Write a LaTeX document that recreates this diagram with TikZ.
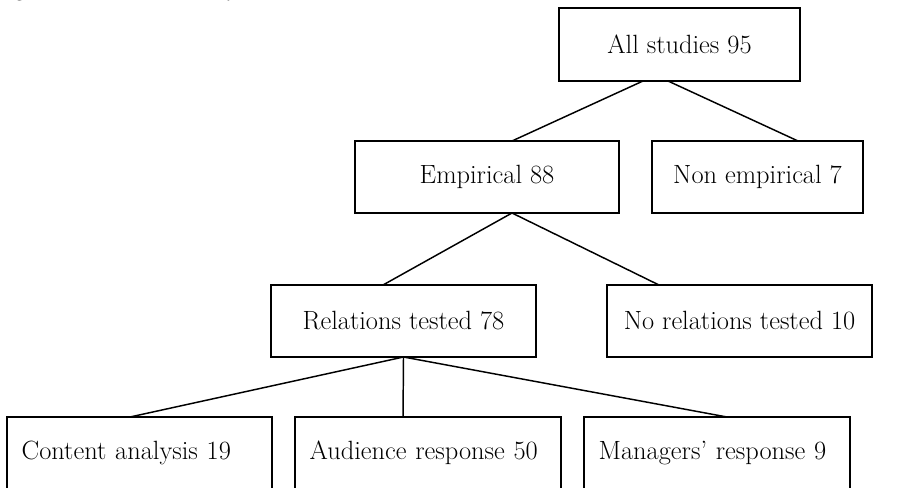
\documentclass[tikz,border=0pt]{standalone}
\usetikzlibrary{calc}

\tikzset{every picture/.style={line width=0.75pt}}

\begin{document}
\begin{tikzpicture}[x=0.75pt,y=0.75pt,yscale=-1,xscale=1,
  studybox/.style={draw, line width=1.1pt, rectangle, inner sep=0pt, outer sep=0pt,
    minimum height=54pt, font=\fontsize{19.8}{23}\selectfont},
  leafbox/.style={studybox, align=left, text width=#1, inner xsep=11pt},
  link/.style={line width=1.1pt}]
\useasboundingbox (0,0) rectangle (909,488);
\clip (0,0) rectangle (909,488);

% Caption (cut at the top edge)
\node [anchor=base west, inner sep=0pt, font=\fontsize{19.8}{23}\selectfont\itshape] (caption) at (-10,-4) {Figure 1: Selection of studies about};

%Shape: Rectangle
\node [studybox, minimum width=180.75pt, minimum height=54.75pt] (all) at (679.5,44.5) {All studies 95};
%Shape: Rectangle
\node [studybox, minimum width=198pt] (emp) at (487,177) {Empirical 88};
%Shape: Rectangle
\node [studybox, minimum width=158.25pt] (nonemp) at (757.5,177) {Non empirical 7};
%Shape: Rectangle
\node [studybox, minimum width=198.75pt] (rel) at (403.5,321) {Relations tested 78};
%Shape: Rectangle
\node [studybox, minimum width=198.75pt] (norel) at (739.5,321) {No relations tested 10};
%Shape: Rectangle
\node [leafbox=176.75pt] (content) at (139.5,453) {Content analysis 19};
%Shape: Rectangle
\node [leafbox=177.5pt] (audience) at (428,453) {Audience response 50};
%Shape: Rectangle
\node [leafbox=177.5pt] (managers) at (717,453) {Managers' response 9};

%Straight Lines
\draw [link] ($(all.south)+(-36.5,0)$) -- ($(emp.north)+(25,0)$);
\draw [link] ($(all.south)+(-11.5,0)$) -- ($(nonemp.north)+(40.5,0)$);
%Straight Lines
\draw [link] ($(emp.south)+(25,0)$) -- ($(rel.north)+(-20.5,0)$);
\draw [link] ($(emp.south)+(25,0)$) -- ($(norel.north)+(-80.5,0)$);
%Straight Lines
\draw [link] (rel.south) -- ($(content.north)+(-9.5,0)$);
\draw [link] (rel.south) -- ($(audience.north)+(-25,0)$);
\draw [link] (rel.south) -- ($(managers.north)+(10,0)$);

\end{tikzpicture}
\end{document}
